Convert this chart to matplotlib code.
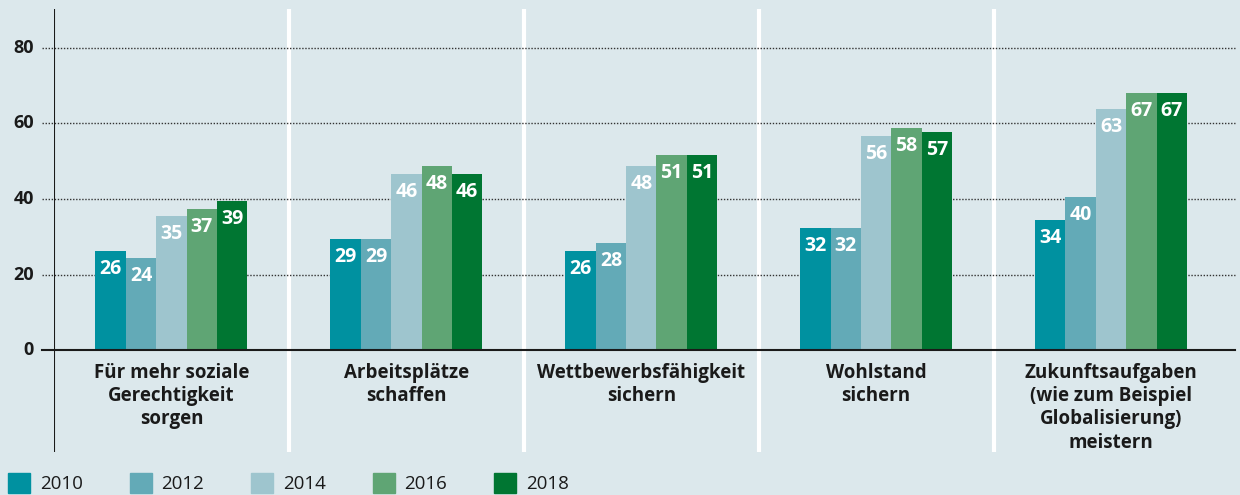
import matplotlib
matplotlib.use("Agg")
import matplotlib.pyplot as plt
from matplotlib.patches import Rectangle
import matplotlib.transforms as mtransforms
import numpy as np

categories = [
    "Für mehr soziale\nGerechtigkeit\nsorgen",
    "Arbeitsplätze\nschaffen",
    "Wettbewerbsfähigkeit\nsichern",
    "Wohlstand\nsichern",
    "Zukunftsaufgaben\n(wie zum Beispiel\nGlobalisierung)\nmeistern",
]
years = ["2010", "2012", "2014", "2016", "2018"]
# bar heights as drawn
v2010 = [26.2, 29.4, 26.3, 32.4, 34.4]
v2012 = [24.4, 29.4, 28.4, 32.4, 40.5]
v2014 = [35.5, 46.6, 48.7, 56.7, 63.8]
v2016 = [37.4, 48.7, 51.7, 58.8, 68.1]
v2018 = [39.5, 46.6, 51.7, 57.7, 68.1]
# printed labels
l2010 = [26, 29, 26, 32, 34]
l2012 = [24, 29, 28, 32, 40]
l2014 = [35, 46, 48, 56, 63]
l2016 = [37, 48, 51, 58, 67]
l2018 = [39, 46, 51, 57, 67]
yticks = [0, 20, 40, 60, 80]

series = [v2010, v2012, v2014, v2016, v2018]
labels = [l2010, l2012, l2014, l2016, l2018]
colors = ["#0091a0", "#63aab7", "#9ec5ce", "#5fa574", "#007632"]
bg = "#dce8ec"

plt.rcParams['font.family'] = ['Open Sans', 'DejaVu Sans']

W, H = 1240, 495
fig = plt.figure(figsize=(W / 100, H / 100), dpi=100, facecolor=bg)
ax_left, ax_right, ax_top, ax_bottom = 54, 1235, 9, 452
ax = fig.add_axes([ax_left / W, (H - ax_bottom) / H, (ax_right - ax_left) / W, (ax_bottom - ax_top) / H])
ax.set_facecolor(bg)
for s in ax.spines.values():
    s.set_visible(False)

px_per_unit = (350 - 48) / 80.0
ymin = -(ax_bottom - 350) / px_per_unit
ymax = (350 - ax_top) / px_per_unit
ax.set_ylim(ymin, ymax)
group_px = 235.0
xmin = -0.5
xmax = 4.5 + (ax_right - 1228.5) / group_px
ax.set_xlim(xmin, xmax)
ax.set_xticks([])
ax.set_yticks([])

# separators
for b in np.arange(0.5, 4.5, 1.0):
    ax.axvline(b, color="white", lw=3, zorder=1)
ax.axvline(-0.5, color="#1a1a1a", lw=1.5, zorder=5)

# gridlines extending left outside the axes
trans = mtransforms.blended_transform_factory(ax.transAxes, ax.transData)
x0 = -(ax_left - 42) / (ax_right - ax_left)
for t in yticks:
    if t == 0:
        ax.plot([x0, 1], [t, t], transform=trans, color="#1a1a1a", lw=1.5, clip_on=False, zorder=6)
    else:
        ax.plot([x0, 1], [t, t], transform=trans, color="#333333", lw=1.0, ls=(0, (1, 1.2)), clip_on=False, zorder=2)
    ax.text(-(ax_left - 34) / (ax_right - ax_left), t, str(t), transform=trans, ha="right", va="center",
            fontsize=13, fontweight="bold", color="#1a1a1a")

w = 30.4 / group_px
x = np.arange(len(categories))
for j, (vals, labs, c) in enumerate(zip(series, labels, colors)):
    xs = x + (j - 2) * w
    ax.bar(xs, vals, width=w, color=c, zorder=3, linewidth=0)
    for xi, v, lab in zip(xs, vals, labs):
        ax.annotate(str(lab), (xi, v), xytext=(0, -13), textcoords="offset points",
                    ha="center", va="center", color="white", fontsize=14, fontweight="bold", zorder=4)

for i, cat in enumerate(categories):
    ax.text(i, -3.4, cat, ha="center", va="top", fontsize=13.5, fontweight="bold",
            color="#1a1a1a", linespacing=1.22)

# legend
for k, (yr, c) in enumerate(zip(years, colors)):
    lx = 8 + k * 121.5
    fig.patches.append(Rectangle((lx / W, (H - 493) / H), 22 / W, 20 / H, transform=fig.transFigure,
                                 color=c, zorder=3))
    fig.text((lx + 32) / W, (H - 484) / H, yr, ha="left", va="center", fontsize=13.5, color="#1a1a1a")

fig.savefig("out.png", dpi=100, facecolor=bg)
